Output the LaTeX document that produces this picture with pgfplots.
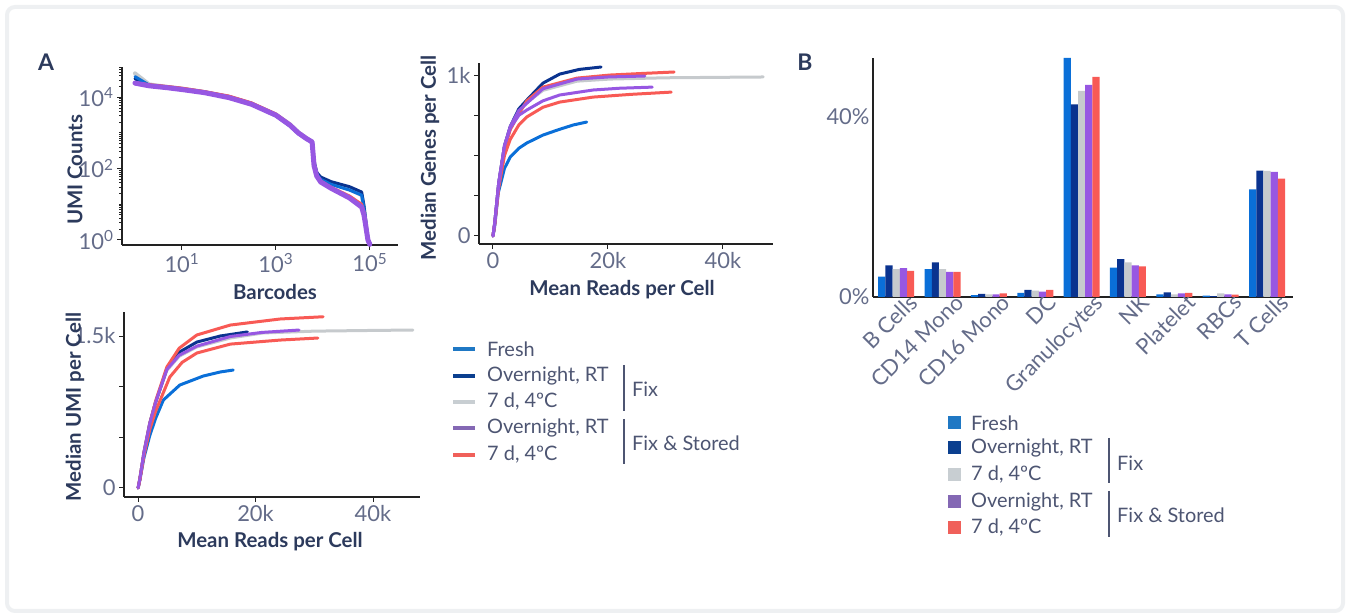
\documentclass[border=0pt]{standalone}
\usepackage{pgfplots}
\pgfplotsset{compat=1.18}
\usepackage{fontspec}
\setmainfont{Lato}
\definecolor{cFresh}{HTML}{0A6FD8}
\definecolor{cDark}{HTML}{0A338F}
\definecolor{cGray}{HTML}{C6CACD}
\definecolor{cPurple}{HTML}{9757E2}
\definecolor{cRed}{HTML}{F85A55}
\definecolor{lFresh}{HTML}{1F78C4}
\definecolor{lDark}{HTML}{0B3F8F}
\definecolor{lGray}{HTML}{C8CED2}
\definecolor{lPurple}{HTML}{8468B4}
\definecolor{lRed}{HTML}{F0605A}
\definecolor{frame}{HTML}{EEF0F2}
\definecolor{axc}{HTML}{222222}
\definecolor{tickc}{HTML}{646C89}
\definecolor{labc}{HTML}{2C3A5C}
\definecolor{legc}{HTML}{4D5572}
\newcommand\tickf{\fontsize{22}{26}\selectfont}
\newcommand\labf{\fontsize{20.5}{24}\selectfont\bfseries}
\newcommand\legf{\fontsize{20}{24}\selectfont}
\pgfplotsset{
  myax/.style={scale only axis, axis lines=left,
    axis line style={-, line width=1.3bp, color=axc},
    tick style={line width=1bp, color=axc}, tick align=outside,
    major tick length=5bp, minor tick length=3bp,
    ticklabel style={font=\tickf, color=tickc},
    scaled x ticks=false, scaled y ticks=false,
    /pgf/number format/assume math mode=true,
    clip=false},
  cl/.style={line width=3bp, line join=round, line cap=round},
}
\begin{document}
\begin{tikzpicture}[x=1bp,y=1bp]
\path[use as bounding box] (0,0) rectangle (1348,616);
\draw[line width=4bp, color=frame, rounded corners=8bp] (7,5) rectangle (1343,609);

% ---------- A1: barcode rank ----------
\begin{axis}[myax, at={(122bp,371bp)}, anchor=south west, width=276bp, height=178bp,
  xmode=log, ymode=log, xmin=0.53, xmax=398000, ymin=0.72, ymax=70800,
  xtick={10,1000,100000},
  xticklabels={10\textsuperscript{1},10\textsuperscript{3},10\textsuperscript{5}},
  ytick={1,100,10000},
  yticklabels={10\textsuperscript{0},10\textsuperscript{2},10\textsuperscript{4}},
  minor xtick={},
  minor ytick={2,3,4,5,6,7,8,9,10,20,30,40,50,60,70,80,90,200,300,400,500,600,700,800,900,1000,2000,3000,4000,5000,6000,7000,8000,9000,20000,30000,40000,50000,60000,70000}]
\addplot[cl, cGray, line width=4bp] coordinates {(1,47000)(2,23000)(5,19500)(10,17500)(30,14000)(100,10300)(300,6700)(1000,3300)(2000,1750)(3000,1050)(4500,720)(5900,570)(6500,150)(7400,72)(9000,52)(15000,38)(37000,26)(67000,18)(75000,8)(80000,4)(91000,1)(100000,0.75)};
\addplot[cl, cDark] coordinates {(1,33000)(2,22000)(5,19500)(10,17500)(30,14200)(100,10500)(300,6800)(1000,3300)(2000,1700)(3000,1000)(4500,700)(5900,560)(6500,160)(7400,78)(9000,58)(15000,43)(37000,31)(67000,22)(75000,9)(80000,4.4)(91000,1)(100000,0.75)};
\addplot[cl, cFresh] coordinates {(1,38000)(2,22000)(5,19000)(10,17000)(30,13800)(100,10000)(300,6300)(1000,3000)(2000,1550)(3000,950)(4500,660)(5900,540)(6500,140)(7400,70)(9000,50)(15000,36)(37000,25)(67000,18)(75000,8)(80000,4)(91000,1)(100000,0.75)};
\addplot[cl, cRed] coordinates {(1,26000)(2,22500)(5,20000)(10,18000)(30,14500)(100,10800)(300,7000)(1000,3400)(2000,1750)(3000,1050)(4500,710)(5900,560)(6500,130)(7400,64)(9000,45)(15000,30)(37000,17)(67000,10)(75000,6)(80000,3.5)(91000,1)(100000,0.75)};
\addplot[cl, cPurple, line width=5bp] coordinates {(1,25000)(2,21000)(5,18500)(10,16500)(30,13500)(100,9800)(300,6400)(1000,3150)(2000,1650)(3000,1000)(4500,690)(5900,560)(6500,120)(7400,62)(9000,42)(15000,28)(37000,15)(67000,8.3)(75000,5)(80000,3)(91000,1)(100000,0.75)};
\end{axis}

% ---------- A2: genes ----------
\begin{axis}[myax, at={(479bp,372bp)}, anchor=south west, width=294bp, height=181bp,
  xmin=-2430, xmax=48700, ymin=-50, ymax=1075,
  xtick={0,20000,40000}, xticklabels={0,20k,40k},
  ytick={0,250,500,750,1000}, yticklabels={0,,,,1k}]
\addplot[cl, cGray] coordinates {(0,0)(300,80)(1000,330)(2000,560)(3000,670)(4500,770)(5900,830)(8700,905)(14600,962)(20300,975)(30000,983)(40000,986)(47000,988)};
\addplot[cl, cDark] coordinates {(0,0)(300,80)(1000,330)(2000,560)(3000,680)(4500,790)(5900,845)(8700,950)(11600,1006)(15000,1035)(18800,1050)};
\addplot[cl, cFresh] coordinates {(0,0)(300,60)(900,265)(2000,420)(3000,490)(4500,545)(5900,578)(8700,627)(11600,663)(14000,690)(16300,708)};
\addplot[cl, cRed] coordinates {(0,0)(300,70)(1000,300)(2000,500)(3000,600)(4500,690)(5900,740)(8700,800)(11600,832)(17400,863)(24000,880)(31000,894)};
\addplot[cl, cRed] coordinates {(0,0)(300,75)(1000,320)(2000,540)(3000,660)(4500,760)(5900,840)(8700,925)(14600,981)(20300,1000)(26000,1010)(31500,1019)};
\addplot[cl, cPurple] coordinates {(0,0)(300,80)(1000,330)(2000,560)(3000,670)(4500,750)(5900,783)(8700,840)(11600,876)(17400,907)(22000,918)(27700,925)};
\addplot[cl, cPurple] coordinates {(0,0)(300,80)(1000,330)(2000,560)(3000,680)(4500,780)(5900,825)(8700,915)(14600,975)(20000,988)(26400,994)};
\end{axis}

% ---------- A3: UMI ----------
\begin{axis}[myax, at={(124bp,119bp)}, anchor=south west, width=296bp, height=185bp,
  xmin=-2400, xmax=48000, ymin=-89, ymax=1737,
  xtick={0,20000,40000}, xticklabels={0,20k,40k},
  ytick={0,500,1000,1500}, yticklabels={0,,,1.5k}]
\addplot[cl, cGray] coordinates {(0,0)(300,90)(1000,350)(2000,640)(3000,850)(4900,1160)(7000,1300)(10000,1392)(15700,1480)(21300,1530)(30000,1548)(40000,1555)(46800,1559)};
\addplot[cl, cDark] coordinates {(0,0)(300,90)(1000,350)(2000,640)(3000,850)(4900,1180)(7000,1340)(10000,1440)(14000,1500)(18600,1540)};
\addplot[cl, cFresh] coordinates {(0,0)(300,80)(1000,300)(2000,520)(3000,690)(4300,868)(7100,1016)(11100,1105)(14000,1145)(16200,1164)};
\addplot[cl, cRed] coordinates {(0,0)(300,80)(1000,320)(2000,580)(3000,760)(5400,1095)(7500,1240)(10000,1332)(15700,1420)(24200,1460)(30600,1480)};
\addplot[cl, cRed] coordinates {(0,0)(300,90)(1000,350)(2000,640)(3000,860)(4900,1194)(7000,1380)(10000,1510)(15700,1608)(24200,1668)(31500,1690)};
\addplot[cl, cPurple] coordinates {(0,0)(300,90)(1000,350)(2000,640)(3000,850)(4900,1170)(7000,1310)(10000,1400)(15700,1495)(21000,1535)(27400,1559)};
\end{axis}

% ---------- B: bars ----------
\begin{axis}[myax, at={(873bp,319bp)}, anchor=south west, width=420bp, height=239bp,
  ybar=0pt, bar width=7.2bp,
  xmin=-0.5, xmax=8.56, ymin=0, ymax=53.1,
  major tick length=0bp,
  xtick={0,1,2,3,4,5,6,7,8},
  xticklabels={B Cells,CD14 Mono,CD16 Mono,DC,Granulocytes,NK,Platelet,RBCs,T Cells},
  xticklabel style={rotate=45, anchor=north east, inner sep=0pt, xshift=11bp, yshift=-5bp},
  ytick={0,40}, yticklabels={0\%,40\%}]
\addplot[fill=cFresh, draw=none] coordinates {(0,4.5)(1,6.2)(2,0.4)(3,0.9)(4,53.1)(5,6.5)(6,0.6)(7,0.3)(8,23.9)};
\addplot[fill=cDark, draw=none] coordinates {(0,7.0)(1,7.7)(2,0.7)(3,1.6)(4,42.8)(5,8.4)(6,1.0)(7,0.2)(8,28.1)};
\addplot[fill=cGray, draw=none] coordinates {(0,6.2)(1,6.2)(2,0.6)(3,1.4)(4,45.8)(5,7.7)(6,0.6)(7,0.8)(8,28.0)};
\addplot[fill=cPurple, draw=none] coordinates {(0,6.4)(1,5.6)(2,0.6)(3,1.2)(4,47.1)(5,7.0)(6,0.8)(7,0.6)(8,27.8)};
\addplot[fill=cRed, draw=none] coordinates {(0,5.8)(1,5.6)(2,0.8)(3,1.6)(4,48.9)(5,6.8)(6,0.9)(7,0.5)(8,26.3)};
\end{axis}

% ---------- labels ----------
\node[font=\fontsize{23}{26}\selectfont\bfseries, color=labc] at (46,554) {A};
\node[font=\fontsize{23}{26}\selectfont\bfseries, color=labc] at (805,554) {B};
\node[font=\labf, color=labc, rotate=90] at (75,446) {UMI Counts};
\node[font=\labf, color=labc] at (275,324) {Barcodes};
\node[font=\labf, color=labc, rotate=90] at (430,458) {Median Genes per Cell};
\node[font=\labf, color=labc] at (622,326) {Mean Reads per Cell};
\node[font=\labf, color=labc, rotate=90] at (75,209) {Median UMI per Cell};
\node[font=\labf, color=labc] at (270,74) {Mean Reads per Cell};

% ---------- legend A ----------
\begin{scope}[font=\legf, text=legc]
\foreach \c/\t/\y in {lFresh/Fresh/349, lDark/{Overnight, RT}/376, lGray/{7 d, 4ºC}/402, lPurple/{Overnight, RT}/428, lRed/{7 d, 4ºC}/455}{
  \draw[line width=4bp, color=\c] (453,616-\y) -- (475,616-\y);
  \node[anchor=west, inner sep=0pt] at (487,616-\y) {\t};
}
\draw[line width=1.5bp, color=legc] (624,616-365) -- (624,616-411);
\draw[line width=1.5bp, color=legc] (624,616-419) -- (624,616-464);
\node[anchor=west, inner sep=0pt] at (632,616-389) {Fix};
\node[anchor=west, inner sep=0pt] at (632,616-443) {Fix \& Stored};
\end{scope}

% ---------- legend B ----------
\begin{scope}[font=\legf, text=legc]
\foreach \c/\t/\y in {lFresh/Fresh/423, lDark/{Overnight, RT}/448, lGray/{7 d, 4ºC}/475, lPurple/{Overnight, RT}/502, lRed/{7 d, 4ºC}/528}{
  \fill[color=\c] (948,616-\y-6.5) rectangle (961,616-\y+6.5);
  \node[anchor=west, inner sep=0pt] at (971,616-\y) {\t};
}
\draw[line width=1.5bp, color=legc] (1109,616-438) -- (1109,616-483);
\draw[line width=1.5bp, color=legc] (1109,616-491) -- (1109,616-537);
\node[anchor=west, inner sep=0pt] at (1117,616-463) {Fix};
\node[anchor=west, inner sep=0pt] at (1117,616-515) {Fix \& Stored};
\end{scope}
\end{tikzpicture}
\end{document}
